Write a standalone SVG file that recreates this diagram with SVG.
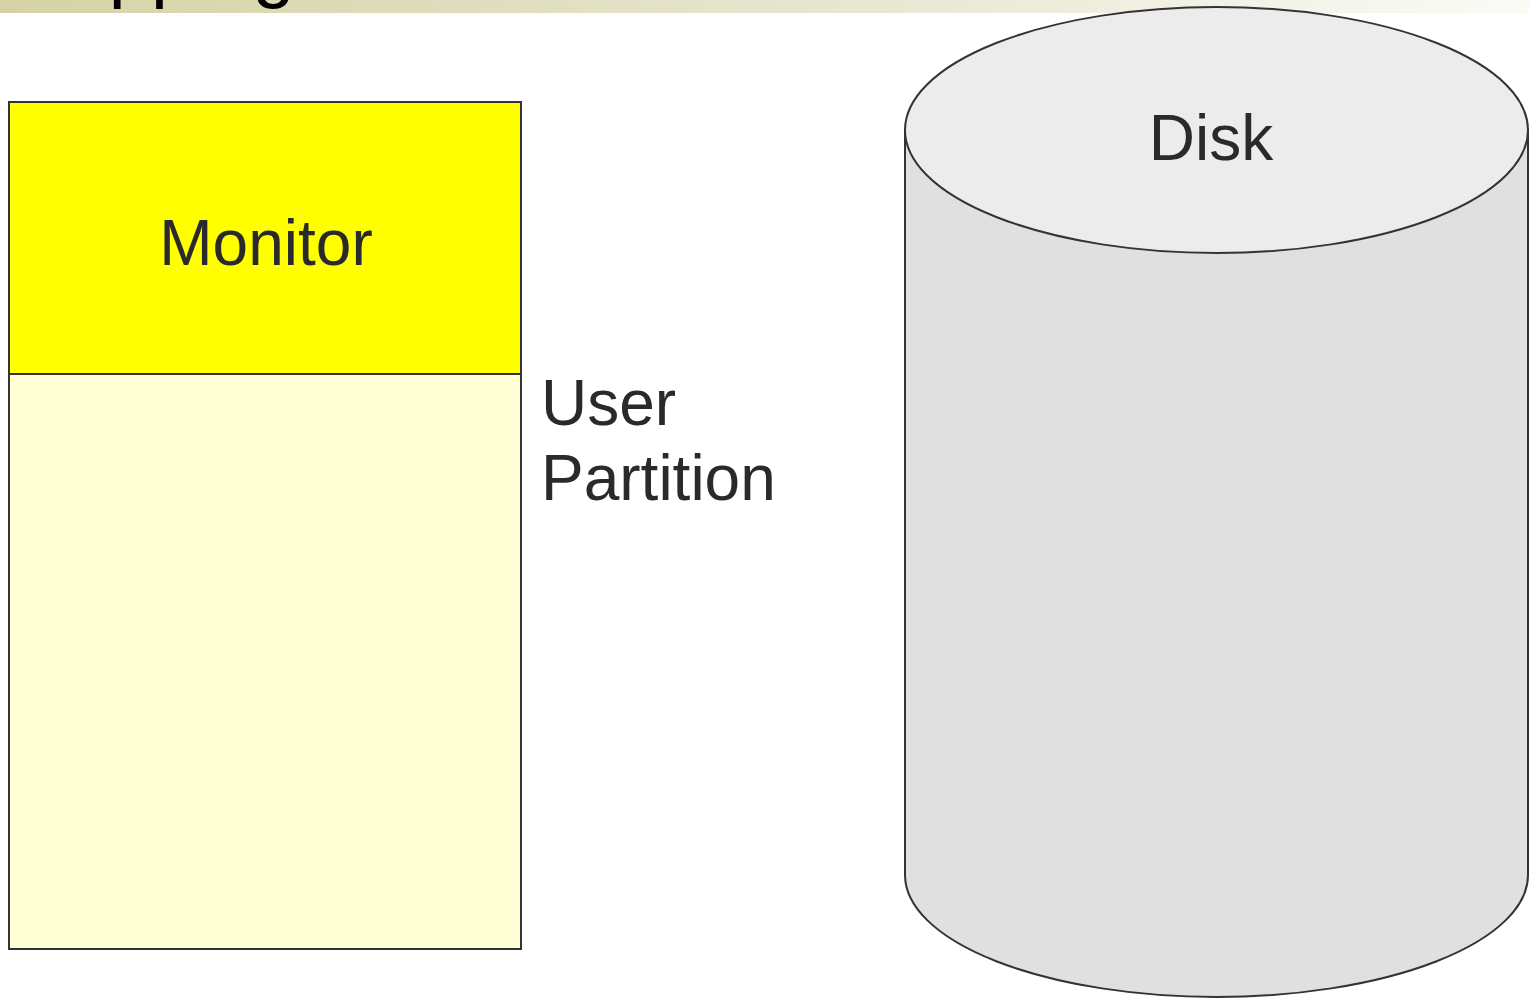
<svg xmlns="http://www.w3.org/2000/svg" width="1529" height="998" viewBox="0 0 1529 998">
  <defs>
    <linearGradient id="titleBar" x1="0" y1="0" x2="1" y2="0">
      <stop offset="0" stop-color="#d6d2a5"/>
      <stop offset="0.5" stop-color="#e6e4cc"/>
      <stop offset="1" stop-color="#fbfbf6"/>
    </linearGradient>
    <clipPath id="canvasClip">
      <rect x="0" y="0" width="1529" height="998"/>
    </clipPath>
  </defs>
  <style>
    .lbl { font-family: "Liberation Sans", Arial, sans-serif; font-size: 64px; fill: #2a2a2a; }
    .box { stroke: #333333; stroke-width: 2; }
    .disk { stroke: #333333; stroke-width: 2; }
  </style>

  <rect x="0" y="0" width="1529" height="998" fill="#ffffff"/>

  <!-- title banner, heading text runs above the visible area -->
  <g id="title" clip-path="url(#canvasClip)">
    <rect x="0" y="0" width="1529" height="13" fill="url(#titleBar)"/>
    <text x="-39" y="-7" font-family="Liberation Sans, Arial, sans-serif" font-size="76" fill="#000000">Swapping</text>
  </g>

  <!-- main memory: monitor region on top of the user partition -->
  <g id="monitor">
    <rect class="box" x="9" y="102" width="512" height="272" fill="#ffff00"/>
    <text class="lbl" x="266" y="265" text-anchor="middle">Monitor</text>
  </g>
  <g id="user-partition">
    <rect class="box" x="9" y="374" width="512" height="575" fill="#ffffd6"/>
  </g>
  <g id="user-partition-label">
    <text class="lbl" x="541" y="425">User</text>
    <text class="lbl" x="541" y="500">Partition</text>
  </g>

  <!-- backing store -->
  <g id="disk">
    <path class="disk" d="M905,130 L905,875 A311.5,122 0 0 0 1528,875 L1528,130 Z" fill="#e0e0e0"/>
    <ellipse class="disk" cx="1216.5" cy="130" rx="311.5" ry="123" fill="#ececec"/>
    <text class="lbl" x="1211" y="160" text-anchor="middle">Disk</text>
  </g>

  <g id="connectors"></g>
</svg>
